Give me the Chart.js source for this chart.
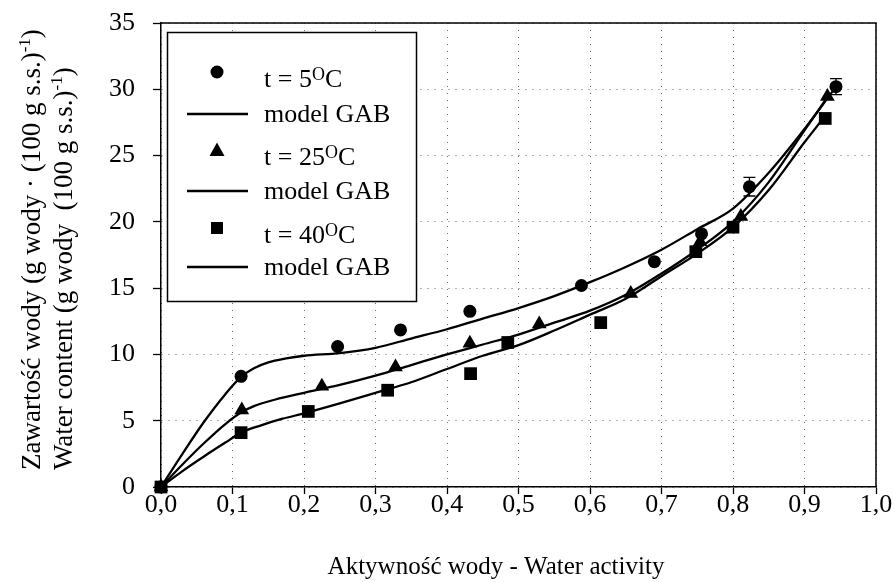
<!DOCTYPE html>
<html>
<head>
<meta charset="utf-8">
<script src="https://cdn.jsdelivr.net/npm/chart.js@4.4.1/dist/chart.umd.min.js"></script>
<style>
  html, body { margin: 0; padding: 0; background: #fff; }
  #wrap { position: relative; width: 895px; height: 582px; }
</style>
</head>
<body>
<div id="wrap"><canvas id="sorption"></canvas></div>
<script>
// measured points (water activity / water content)
const aw5 = [0, 0.112, 0.247, 0.335, 0.432, 0.588, 0.690, 0.756, 0.823, 0.944];
const wc5 = [0, 8.35, 10.6, 11.85, 13.25, 15.2, 17.0, 19.1, 22.65, 30.2];
const err5 = [0, 0, 0, 0, 0, 0, 0, 0, 0.7, 0.6];

const aw25 = [0, 0.113, 0.225, 0.328, 0.432, 0.529, 0.657, 0.754, 0.811, 0.932];
const wc25 = [0, 5.8, 7.6, 9.05, 10.85, 12.3, 14.6, 18.5, 20.4, 29.45];

const aw40 = [0, 0.112, 0.206, 0.317, 0.433, 0.485, 0.615, 0.748, 0.800, 0.929];
const wc40 = [0, 4.1, 5.7, 7.3, 8.55, 10.9, 12.4, 17.75, 19.6, 27.8];

// GAB model curves
const gabAw5 = [0, 0.03, 0.06, 0.09, 0.112, 0.13, 0.15, 0.175, 0.2, 0.25, 0.3, 0.35, 0.4, 0.45, 0.5, 0.55, 0.6, 0.65, 0.7, 0.75, 0.8, 0.85, 0.9, 0.94];
const gabWc5 = [0, 2.5, 4.9, 7.0, 8.3, 8.95, 9.4, 9.7, 9.9, 10.1, 10.5, 11.2, 11.9, 12.7, 13.5, 14.4, 15.45, 16.6, 17.9, 19.45, 21.0, 23.7, 27.0, 29.9];

const gabAw25 = [0, 0.03, 0.06, 0.09, 0.113, 0.13, 0.16, 0.2, 0.25, 0.3, 0.35, 0.4, 0.45, 0.5, 0.55, 0.6, 0.65, 0.7, 0.75, 0.8, 0.85, 0.9, 0.932];
const gabWc25 = [0, 1.7, 3.3, 4.75, 5.65, 6.1, 6.6, 7.1, 7.7, 8.4, 9.2, 10.0, 10.75, 11.5, 12.4, 13.3, 14.5, 16.1, 17.9, 20.0, 23.0, 26.9, 29.4];

const gabAw40 = [0, 0.03, 0.06, 0.09, 0.112, 0.14, 0.17, 0.2, 0.25, 0.3, 0.35, 0.4, 0.45, 0.5, 0.55, 0.6, 0.65, 0.7, 0.75, 0.8, 0.85, 0.9, 0.929];
const gabWc40 = [0, 1.2, 2.3, 3.35, 4.1, 4.65, 5.15, 5.55, 6.3, 7.1, 7.9, 8.9, 9.9, 10.7, 11.8, 13.0, 14.2, 15.9, 17.6, 19.6, 22.4, 26.0, 28.0];

const xTickLabels = ['0,0', '0,1', '0,2', '0,3', '0,4', '0,5', '0,6', '0,7', '0,8', '0,9', '1,0'];
const yTickLabels = ['0', '5', '10', '15', '20', '25', '30', '35'];
const xTitle = 'Aktywność wody - Water activity';
const yTitleLines = [
    ['Zawartość wody (g wody · (100 g s.s.)', '-1', ')'],
    ['Water content (g wody  (100 g s.s.)', '-1', ')']
];

const legendRows = [
    { kind: 'circle', text: ['t = 5', 'O', 'C'] },
    { kind: 'line', text: ['model GAB'] },
    { kind: 'triangle', text: ['t = 25', 'O', 'C'] },
    { kind: 'line', text: ['model GAB'] },
    { kind: 'rect', text: ['t = 40', 'O', 'C'] },
    { kind: 'line', text: ['model GAB'] }
];

const SERIF = "'Liberation Serif', 'Times New Roman', serif";
Chart.defaults.font.family = SERIF;
Chart.defaults.color = '#000';

const pts = (xs, ys) => xs.map((x, i) => ({ x: x, y: ys[i] }));

function markerSet(xs, ys, style, r) {
    return {
        type: 'scatter',
        data: pts(xs, ys),
        pointStyle: style,
        pointRadius: r,
        pointHoverRadius: r,
        backgroundColor: '#000',
        borderColor: '#000',
        borderWidth: 0,
        clip: false
    };
}

function curveSet(xs, ys) {
    return {
        type: 'scatter',
        data: pts(xs, ys),
        showLine: true,
        borderColor: '#000',
        borderWidth: 2.3,
        pointRadius: 0,
        tension: 0.4,
        cubicInterpolationMode: 'monotone',
        clip: false
    };
}

// text with optional superscript: parts = [main, sup, after]
function drawRich(ctx, x, y, parts, o) {
    const size = o.size, supSize = o.supSize || size * 0.7, rise = o.rise || 0;
    ctx.save();
    ctx.translate(x, y);
    if (o.rotate) ctx.rotate(o.rotate);
    ctx.textAlign = 'left';
    ctx.textBaseline = 'alphabetic';
    ctx.font = size + 'px ' + SERIF;
    let cx = 0;
    if (o.align === 'center') cx = -ctx.measureText(parts[0]).width / 2;
    ctx.fillText(parts[0], cx, 0);
    cx += ctx.measureText(parts[0]).width;
    if (parts.length > 1) {
        ctx.font = supSize + 'px ' + SERIF;
        ctx.fillText(parts[1], cx, -rise);
        cx += ctx.measureText(parts[1]).width;
        ctx.font = size + 'px ' + SERIF;
        ctx.fillText(parts[2], cx, 0);
    }
    ctx.restore();
}

const frameAndExtras = {
    id: 'frameAndExtras',
    afterDatasetsDraw(chart) {
        const { ctx, chartArea: a, scales: { x, y } } = chart;
        ctx.save();
        // plot frame (top + right)
        ctx.strokeStyle = '#000';
        ctx.lineWidth = 1.5;
        ctx.beginPath();
        ctx.moveTo(a.left, a.top);
        ctx.lineTo(a.right, a.top);
        ctx.lineTo(a.right, a.bottom);
        ctx.stroke();

        // error bars on the 5 C series
        ctx.lineWidth = 1.3;
        err5.forEach((e, i) => {
            if (!e) return;
            const px = x.getPixelForValue(aw5[i]);
            const y1 = y.getPixelForValue(wc5[i] + e);
            const y2 = y.getPixelForValue(wc5[i] - e);
            ctx.beginPath();
            ctx.moveTo(px, y1); ctx.lineTo(px, y2);
            ctx.moveTo(px - 6, y1); ctx.lineTo(px + 6, y1);
            ctx.moveTo(px - 6, y2); ctx.lineTo(px + 6, y2);
            ctx.stroke();
        });
        ctx.restore();
    },
    afterDraw(chart) {
        const ctx = chart.ctx;
        ctx.save();
        ctx.fillStyle = '#000';

        // axis titles
        drawRich(ctx, 496, 574, [xTitle], { size: 25, align: 'center' });
        const baseX = [39.5, 72];
        yTitleLines.forEach((parts, i) => {
            drawRich(ctx, baseX[i], 470, parts, { size: 27, supSize: 17, rise: 10, rotate: -Math.PI / 2 });
        });

        // legend box
        const bx = 167.5, by = 32.5, bw = 249, bh = 269;
        ctx.fillStyle = '#fff';
        ctx.fillRect(bx, by, bw, bh);
        ctx.strokeStyle = '#000';
        ctx.lineWidth = 1.5;
        ctx.strokeRect(bx, by, bw, bh);

        ctx.fillStyle = '#000';
        const mx = 217, tx = 264;
        const rowY = [72, 114, 150, 191, 228, 267];
        legendRows.forEach((row, i) => {
            const cy = rowY[i];
            ctx.beginPath();
            if (row.kind === 'line') {
                ctx.lineWidth = 2.3;
                ctx.moveTo(187, cy);
                ctx.lineTo(248, cy);
                ctx.stroke();
                drawRich(ctx, tx, cy + 8, row.text, { size: 26 });
            } else {
                if (row.kind === 'circle') {
                    ctx.arc(mx, cy, 6.5, 0, Math.PI * 2);
                } else if (row.kind === 'triangle') {
                    ctx.moveTo(mx, cy - 7.5);
                    ctx.lineTo(mx + 7.5, cy + 6);
                    ctx.lineTo(mx - 7.5, cy + 6);
                    ctx.closePath();
                } else {
                    ctx.rect(mx - 6, cy - 6, 12, 12);
                }
                ctx.fill();
                drawRich(ctx, tx, cy + 15, row.text, { size: 26, supSize: 18, rise: 7 });
            }
        });
        ctx.restore();
    }
};

new Chart(document.getElementById('sorption'), {
    data: {
        datasets: [
            curveSet(gabAw5, gabWc5),
            curveSet(gabAw25, gabWc25),
            curveSet(gabAw40, gabWc40),
            markerSet(aw5, wc5, 'circle', 6.5),
            markerSet(aw25, wc25, 'triangle', 8.5),
            markerSet(aw40, wc40, 'rect', 9)
        ]
    },
    options: {
        responsive: true,
        maintainAspectRatio: false,
        animation: false,
        events: [],
        layout: { padding: { top: 23, right: 19, left: 0, bottom: 0 } },
        plugins: { legend: { display: false }, tooltip: { enabled: false } },
        scales: {
            x: {
                type: 'linear',
                min: 0,
                max: 1,
                afterFit: s => { s.height = 95; s.paddingLeft = 0; s.paddingRight = 0; },
                ticks: {
                    stepSize: 0.1,
                    autoSkip: false,
                    maxRotation: 0,
                    padding: -2,
                    font: { size: 26, lineHeight: 1 },
                    color: '#000',
                    callback: (v, i) => xTickLabels[i]
                },
                grid: { color: '#666', lineWidth: 1, tickColor: '#000', tickLength: 7, tickWidth: 1.3 },
                border: { display: true, color: '#000', width: 1.5, dash: [1, 6] }
            },
            y: {
                type: 'linear',
                min: 0,
                max: 35,
                afterFit: s => { s.width = 161; s.paddingTop = 0; s.paddingBottom = 0; },
                ticks: {
                    stepSize: 5,
                    padding: 18,
                    font: { size: 26, lineHeight: 1 },
                    color: '#000',
                    callback: (v, i) => yTickLabels[i]
                },
                grid: { color: '#666', lineWidth: 1, tickColor: '#000', tickLength: 8, tickWidth: 1.3 },
                border: { display: true, color: '#000', width: 1.5, dash: [1, 6] }
            }
        }
    },
    plugins: [frameAndExtras]
});
</script>
</body>
</html>
